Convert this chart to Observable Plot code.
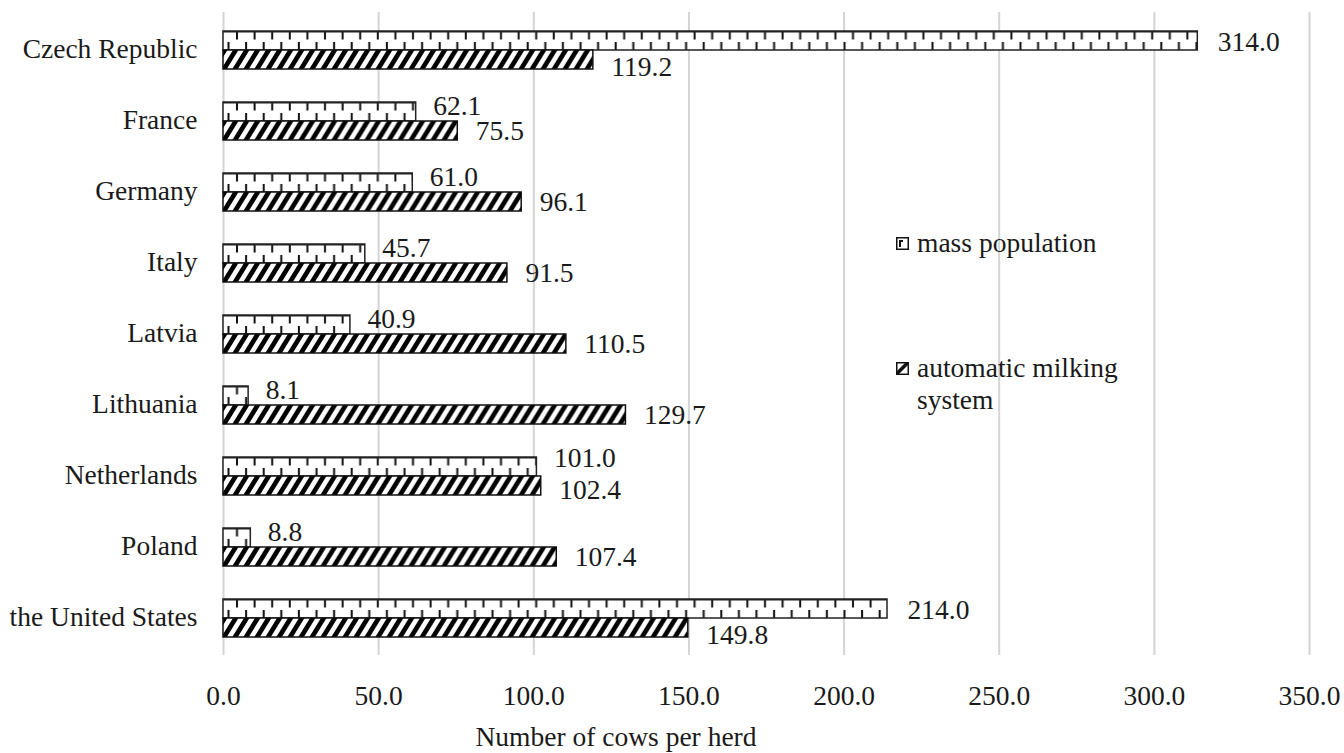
<!DOCTYPE html>
<html><head><meta charset="utf-8">
<script src="https://cdn.jsdelivr.net/npm/d3@7"></script>
<script src="https://cdn.jsdelivr.net/npm/@observablehq/plot@0.6"></script>
<style>
body{margin:0;background:#fff;}
#wrap{position:relative;width:1344px;height:753px;font-family:"Liberation Serif",serif;color:#1a1a1a;}
.lg{position:absolute;font-size:27.5px;line-height:32px;white-space:nowrap;}
.lg svg{position:absolute;left:-21px;top:10px;}
#xtitle{position:absolute;left:616px;top:722px;transform:translateX(-50%);font-size:27.5px;line-height:30px;white-space:nowrap;}
</style>
</head><body>
<div id="wrap"></div>
<script>
const countries = ["Czech Republic","France","Germany","Italy","Latvia","Lithuania","Netherlands","Poland","the United States"];
const massPopulation = [314.0, 62.1, 61.0, 45.7, 40.9, 8.1, 101.0, 8.8, 214.0];
const automaticMilking = [119.2, 75.5, 96.1, 91.5, 110.5, 129.7, 102.4, 107.4, 149.8];
const xTicks = [0, 50, 100, 150, 200, 250, 300, 350];
const seriesNames = ["mass population", "automatic milking system"];
const xTitle = "Number of cows per herd";

const rows = countries.map((c, i) => ({country: c, mass: massPopulation[i], auto: automaticMilking[i]}));
const fmt = d3.format(".1f");
const massFirst = rows.filter(d => d.mass > d.auto);
const closePair = rows.filter(d => d.mass <= d.auto && d.auto - d.mass < 5);
const autoFirst = rows.filter(d => d.mass <= d.auto && d.auto - d.mass >= 5);
const ff = "'Liberation Serif', serif";
const txt = {textAnchor: "start", fill: "#1a1a1a", fontFamily: ff};

const svg = Plot.plot({
  width: 1344, height: 753,
  marginLeft: 223, marginRight: 35, marginTop: 12, marginBottom: 98,
  style: {fontFamily: ff, fontSize: "27.5px", color: "#1a1a1a", background: "#fff"},
  x: {domain: [0, 350], label: null},
  y: {domain: countries, paddingInner: 0.47, paddingOuter: 0.21, label: null},
  marks: [
    Plot.gridX(xTicks, {stroke: "#d4d4d4", strokeOpacity: 1, strokeWidth: 2}),
    Plot.axisX({ticks: xTicks, tickFormat: fmt, tickSize: 0, tickPadding: 30, label: null, fontFamily: ff}),
    Plot.axisY({tickSize: 0, tickPadding: 26, dy: -1.5, label: null, fontFamily: ff}),
    Plot.barX(rows, {x: "mass", y: "country", insetBottom: 19, fill: "url(#massPat)", stroke: "#222", strokeWidth: 1.5}),
    Plot.barX(rows, {x: "auto", y: "country", insetTop: 19, fill: "url(#autoPat)", stroke: "#111", strokeWidth: 1.5}),
    Plot.text(autoFirst, {x: "mass", y: "country", text: d => fmt(d.mass), dx: 17, dy: -15, ...txt}),
    Plot.text(autoFirst, {x: "auto", y: "country", text: d => fmt(d.auto), dx: 18, dy: 10, ...txt}),
    Plot.text(closePair, {x: "mass", y: "country", text: d => fmt(d.mass), dx: 17, dy: -18, ...txt}),
    Plot.text(closePair, {x: "auto", y: "country", text: d => fmt(d.auto), dx: 18, dy: 14, ...txt}),
    Plot.text(massFirst, {x: "mass", y: "country", text: d => fmt(d.mass), dx: 20, dy: -8, ...txt}),
    Plot.text(massFirst, {x: "auto", y: "country", text: d => fmt(d.auto), dx: 18, dy: 17, ...txt})
  ]
});

// Pattern definitions (one tile per bar, drawn from the bar's top-left corner)
const defs = d3.select(svg).insert("defs", ":first-child");
const mp = defs.append("pattern").attr("id", "massPat")
  .attr("patternUnits", "objectBoundingBox").attr("patternContentUnits", "userSpaceOnUse")
  .attr("x", 0).attr("y", 0).attr("width", 1).attr("height", 1);
mp.append("rect").attr("width", 1400).attr("height", 40).attr("fill", "#fff");
let p = "";
for (let x = 14; x < 1400; x += 17.6) p += `M${x.toFixed(1)},0V8.5`;
for (let x = 5.5; x < 1400; x += 17.6) p += `M${x.toFixed(1)},11V20`;
mp.append("path").attr("d", p).attr("stroke", "#111").attr("stroke-width", 2).attr("fill", "none");
mp.append("line").attr("x1", 0).attr("x2", 1400).attr("y1", 0.75).attr("y2", 0.75).attr("stroke", "#222").attr("stroke-width", 1.5);

const ap = defs.append("pattern").attr("id", "autoPat")
  .attr("patternUnits", "objectBoundingBox").attr("patternContentUnits", "userSpaceOnUse")
  .attr("x", 0).attr("y", 0).attr("width", 1).attr("height", 1);
ap.append("rect").attr("width", 1400).attr("height", 40).attr("fill", "#fff");
let q = "";
for (let x = -24; x < 1400; x += 11) q += `M${x},19.5L${x + 5.5},19.5L${x + 17.5},0L${x + 12},0Z`;
ap.append("path").attr("d", q).attr("fill", "#000");

const wrap = document.getElementById("wrap");
wrap.appendChild(svg);

// Legend
const lg1 = document.createElement("div");
lg1.className = "lg"; lg1.style.left = "917px"; lg1.style.top = "227px";
lg1.innerHTML = `<svg width="13" height="13"><rect x="0.75" y="0.75" width="11.5" height="11.5" fill="#fff" stroke="#111" stroke-width="1.5"/><path d="M3,3H7V5H5V10H3Z" fill="#111"/></svg>` + seriesNames[0];
wrap.appendChild(lg1);
const lg2 = document.createElement("div");
lg2.className = "lg"; lg2.style.left = "917px"; lg2.style.top = "352px";
lg2.innerHTML = `<svg width="13" height="13"><rect x="0.75" y="0.75" width="11.5" height="11.5" fill="#fff" stroke="#111" stroke-width="1.5"/><path d="M1,12L1,9L9,1L12,1L12,3L3,12Z" fill="#111"/></svg>automatic milking<br>system`;
wrap.appendChild(lg2);

const xt = document.createElement("div");
xt.id = "xtitle"; xt.textContent = xTitle;
wrap.appendChild(xt);
</script>
</body></html>
